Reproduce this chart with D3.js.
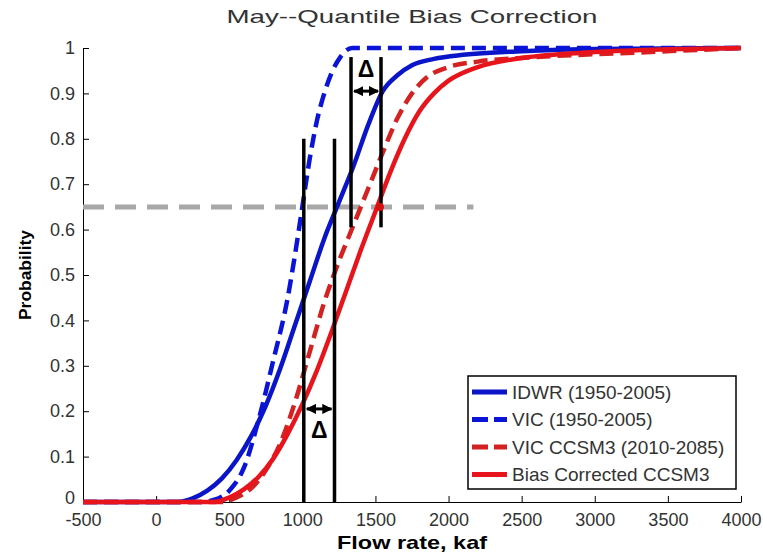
<!DOCTYPE html>
<html>
<head>
<meta charset="utf-8">
<style>
body { margin: 0; background: #fff; }
text { font-family: Arial, "Liberation Sans", sans-serif; }
.tick text { fill: #333; font-size: 18px; }
</style>
<script src="https://cdn.jsdelivr.net/npm/d3@7"></script>
</head>
<body>
<svg width="763" height="556"></svg>
<script>

// flow rate (kaf) and cumulative probability
var idwrFlow = [-500, 150, 250, 350, 450, 550, 650, 750, 850, 950, 1050, 1150, 1250, 1350, 1450, 1550, 1650, 1750, 1900, 2100, 2500, 3000, 4000];
var idwrProb = [0, 0, 0.008, 0.025, 0.052, 0.092, 0.145, 0.212, 0.295, 0.39, 0.485, 0.58, 0.66, 0.74, 0.83, 0.905, 0.94, 0.962, 0.976, 0.985, 0.993, 0.998, 1];

var vicFlow = [-500, 300, 400, 500, 600, 700, 800, 900, 950, 1000, 1050, 1100, 1150, 1200, 1260, 1340, 4000];
var vicProb = [0, 0, 0.005, 0.025, 0.075, 0.18, 0.31, 0.45, 0.545, 0.65, 0.755, 0.84, 0.9, 0.945, 0.98, 1, 1];

var ccsmFlow = [-500, 450, 550, 650, 750, 850, 950, 1050, 1150, 1250, 1350, 1450, 1550, 1650, 1750, 1850, 2000, 2200, 2600, 3300, 4000];
var ccsmProb = [0, 0, 0.01, 0.03, 0.07, 0.13, 0.22, 0.33, 0.44, 0.53, 0.61, 0.69, 0.77, 0.845, 0.9, 0.935, 0.958, 0.97, 0.98, 0.99, 1];

var biasFlow = [-500, 400, 500, 600, 700, 800, 900, 1000, 1100, 1200, 1300, 1400, 1500, 1600, 1700, 1800, 1900, 2000, 2200, 2500, 3000, 3500, 4000];
var biasProb = [0, 0, 0.01, 0.028, 0.055, 0.095, 0.15, 0.215, 0.29, 0.375, 0.465, 0.555, 0.64, 0.725, 0.8, 0.86, 0.9, 0.928, 0.958, 0.978, 0.991, 0.997, 1];

var seriesNames = ["IDWR (1950-2005)", "VIC (1950-2005)", "VIC CCSM3 (2010-2085)", "Bias Corrected CCSM3"];

// quantile mapping annotations
var markFlow = [1010, 1220, 1333, 1538];
var markLow = [0, 0, 0.605, 0.605];
var markHigh = [0.8, 0.8, 0.98, 0.98];
var refProb = 0.65;
var refFlowEnd = 2170;
var pointFlow = 1531;

var xTicks = [-500, 0, 500, 1000, 1500, 2000, 2500, 3000, 3500, 4000];
var yTicks = [0, 0.1, 0.2, 0.3, 0.4, 0.5, 0.6, 0.7, 0.8, 0.9, 1];

var svg = d3.select("svg"),
    margin = {top: 48, right: 22, bottom: 54, left: 83},
    width = +svg.attr("width") - margin.left - margin.right,
    height = +svg.attr("height") - margin.top - margin.bottom;

var x = d3.scaleLinear().domain([-500, 4000]).range([0, width]),
    y = d3.scaleLinear().domain([0, 1]).range([height, 0]);

var g = svg.append("g")
    .attr("transform", "translate(" + margin.left + "," + margin.top + ")");

// axes, ticks pointing inward like matlab
g.append("g")
    .attr("class", "axis axis--x")
    .attr("transform", "translate(0," + height + ")")
    .call(d3.axisBottom(x).tickValues(xTicks).tickSizeInner(-6).tickSizeOuter(0).tickPadding(8)
      .tickFormat(function(d) { return String(d); }));

g.append("g")
    .attr("class", "axis axis--y")
    .call(d3.axisLeft(y).tickValues(yTicks).tickSizeInner(-6).tickSizeOuter(0).tickPadding(8)
      .tickFormat(function(d) { return String(+d.toFixed(1)); }));

g.selectAll(".axis path").attr("stroke", "#000");
g.selectAll(".axis line").attr("stroke", "#000");
g.selectAll(".axis--x text").attr("dy", "0.88em");
// the bottom "0" sits just above "-500"
g.selectAll(".axis--y .tick text").filter(function(d) { return d === 0; }).attr("y", -4);

// grey reference line
g.append("line")
    .attr("x1", x(-500)).attr("x2", x(refFlowEnd))
    .attr("y1", y(refProb)).attr("y2", y(refProb))
    .attr("stroke", "#a8a8a8")
    .attr("stroke-width", 5)
    .attr("stroke-dasharray", "21,11");

var line = d3.line()
    .x(function(d) { return x(d[0]); })
    .y(function(d) { return y(d[1]); })
    .curve(d3.curveMonotoneX);

var series = [
  {flow: idwrFlow, prob: idwrProb, color: "#0a14c8", dash: null},
  {flow: vicFlow, prob: vicProb, color: "#0a14d8", dash: "14,7"},
  {flow: ccsmFlow, prob: ccsmProb, color: "#d42222", dash: "14,7"},
  {flow: biasFlow, prob: biasProb, color: "#e8141c", dash: null}
];

series.forEach(function(s) {
  g.append("path")
    .datum(d3.zip(s.flow, s.prob))
    .attr("fill", "none")
    .attr("stroke", s.color)
    .attr("stroke-width", 4.5)
    .attr("stroke-dasharray", s.dash)
    .attr("d", line);
});

// vertical quantile lines
markFlow.forEach(function(f, i) {
  g.append("line")
    .attr("x1", x(f)).attr("x2", x(f))
    .attr("y1", y(markLow[i])).attr("y2", y(markHigh[i]))
    .attr("stroke", "#000")
    .attr("stroke-width", 3.5);
});

// point where the bias-corrected curve meets the reference
g.append("circle")
  .attr("cx", x(pointFlow)).attr("cy", y(refProb))
  .attr("r", 4)
  .attr("fill", "#d41010");

// double arrows with delta
svg.append("defs").append("marker")
    .attr("id", "head")
    .attr("viewBox", "0 0 10 10")
    .attr("refX", 9).attr("refY", 5)
    .attr("markerWidth", 3.4).attr("markerHeight", 3.4)
    .attr("orient", "auto-start-reverse")
  .append("path")
    .attr("d", "M0,0L10,5L0,10z")
    .attr("fill", "#000");

function deltaArrow(f0, f1, p, labelP) {
  g.append("line")
    .attr("x1", x(f0) + 3).attr("x2", x(f1) - 3)
    .attr("y1", y(p)).attr("y2", y(p))
    .attr("stroke", "#000")
    .attr("stroke-width", 3)
    .attr("marker-start", "url(#head)")
    .attr("marker-end", "url(#head)");
  g.append("text")
    .attr("x", x((f0 + f1) / 2))
    .attr("y", y(labelP))
    .attr("dy", "0.36em")
    .attr("text-anchor", "middle")
    .style("font-size", "23px")
    .style("font-weight", "bold")
    .text("\u0394");
}
deltaArrow(markFlow[2], markFlow[3], 0.905, 0.955);
deltaArrow(markFlow[0], markFlow[1], 0.205, 0.16);

// title and labels
svg.append("text")
    .attr("x", margin.left + width / 2)
    .attr("y", 23)
    .attr("text-anchor", "middle")
    .attr("fill", "#333")
    .attr("textLength", 371)
    .attr("lengthAdjust", "spacingAndGlyphs")
    .style("font-size", "19px")
    .text("May--Quantile Bias Correction");

svg.append("text")
    .attr("x", margin.left + width / 2)
    .attr("y", 549)
    .attr("text-anchor", "middle")
    .attr("textLength", 150)
    .attr("lengthAdjust", "spacingAndGlyphs")
    .style("font-size", "19px")
    .style("font-weight", "bold")
    .text("Flow rate, kaf");

svg.append("text")
    .attr("transform", "translate(31," + (margin.top + y(0.5)) + ") rotate(-90)")
    .attr("text-anchor", "middle")
    .attr("textLength", 90)
    .attr("lengthAdjust", "spacingAndGlyphs")
    .style("font-size", "16px")
    .style("font-weight", "bold")
    .text("Probability");

// legend
var lg = svg.append("g")
    .attr("class", "legend")
    .attr("transform", "translate(468,376)");

lg.append("rect")
    .attr("width", 268).attr("height", 113)
    .attr("fill", "#fff")
    .attr("stroke", "#000")
    .attr("stroke-width", 1.5);

seriesNames.forEach(function(name, i) {
  var s = series[i];
  lg.append("line")
    .attr("x1", 4).attr("x2", 39)
    .attr("y1", 16 + i * 27.5).attr("y2", 16 + i * 27.5)
    .attr("stroke", s.color)
    .attr("stroke-width", 5)
    .attr("stroke-dasharray", s.dash ? "16,6" : null);
  lg.append("text")
    .attr("x", 44)
    .attr("y", 16 + i * 27.5)
    .attr("dy", "0.36em")
    .attr("fill", "#333")
    .style("font-size", "19px")
    .text(name);
});

</script>
</body>
</html>
